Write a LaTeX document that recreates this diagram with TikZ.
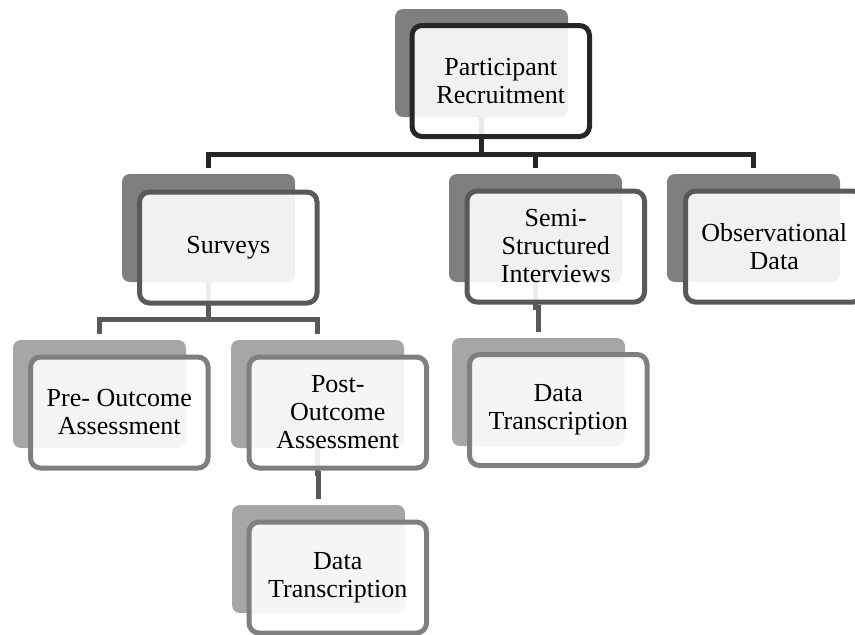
\documentclass[tikz,border=0pt]{standalone}
\usepackage{fontspec}
\setmainfont{Liberation Serif}
\definecolor{lzero}{HTML}{262626}
\definecolor{lone}{HTML}{595959}
\definecolor{ltwo}{HTML}{7F7F7F}
\definecolor{bkdark}{HTML}{7F7F7F}
\definecolor{bklight}{HTML}{A6A6A6}
\definecolor{tintdark}{HTML}{F1F1F1}
\definecolor{tintlight}{HTML}{F5F5F5}
\definecolor{tintzero}{HTML}{E8E8E8}
\definecolor{tintone}{HTML}{EDEDED}
\begin{document}
\begin{tikzpicture}[x=1pt,y=-1pt,
  backbox/.style={rectangle, rounded corners=8pt, minimum width=173pt, minimum height=108pt, inner sep=0pt, outer sep=0pt, anchor=north west},
  frontbox/.style={rectangle, fill=white, minimum width=177.5pt, minimum height=111pt, inner sep=0pt, outer sep=0pt, anchor=north west, rounded corners=10pt},
  outline/.style={line width=5pt, rounded corners=10pt},
  label/.style={align=center, font=\fontsize{26}{28}\selectfont},
  conn/.style={line width=5pt, shorten >=6pt},
  stub/.style={line width=5pt}
]
\useasboundingbox (0,0) rectangle (855,635);
% back boxes
\node[backbox, fill=bkdark] (pb) at (395,9) {};
\node[backbox, fill=bkdark] (sb) at (122,174) {};
\node[backbox, fill=bkdark] (mb) at (449,174) {};
\node[backbox, fill=bkdark] (ob) at (667,174) {};
\node[backbox, fill=bklight] (prb) at (13,340) {};
\node[backbox, fill=bklight] (pob) at (231,340) {};
\node[backbox, fill=bklight] (d2b) at (452,338) {};
\node[backbox, fill=bklight] (d1b) at (232,505) {};
% connectors
\draw[conn, lzero] (pb.south) -- ++(0,37) -| (sb.north);
\draw[conn, lzero] (pb.south) -- ++(0,37) -| (mb.north);
\draw[conn, lzero] (pb.south) -- ++(0,37) -| (ob.north);
\draw[conn, lone] (sb.south) -- ++(0,37) -| (prb.north);
\draw[conn, lone] (sb.south) -- ++(0,37) -| (pob.north);
\draw[conn, lone] (mb.south) -- ++(0,25) -| (d2b.north);
\draw[conn, lone] (pob.south) -- ++(0,25) -| (d1b.north);
% front boxes (white faces)
\node[frontbox] (p) at (412,25.5) {};
\node[frontbox] (s) at (139.5,192) {};
\node[frontbox] (m) at (467,191) {};
\node[frontbox] (o) at (685.5,191) {};
\node[frontbox] (pr) at (30.5,357) {};
\node[frontbox] (po) at (249,357) {};
\node[frontbox] (d2) at (469.5,354.5) {};
\node[frontbox] (d1) at (249,522) {};
% tinted overlaps seen through the faces
\begin{scope}
  \clip[rounded corners=10pt] (p.north west) rectangle (p.south east);
  \fill[tintdark, rounded corners=8pt] (pb.north west) rectangle (pb.south east);
  \draw[stub, tintzero] (pb.south) -- ++(0,37);
\end{scope}
\begin{scope}
  \clip[rounded corners=10pt] (s.north west) rectangle (s.south east);
  \fill[tintdark, rounded corners=8pt] (sb.north west) rectangle (sb.south east);
  \draw[stub, tintone] (sb.south) -- ++(0,37);
\end{scope}
\begin{scope}
  \clip[rounded corners=10pt] (m.north west) rectangle (m.south east);
  \fill[tintdark, rounded corners=8pt] (mb.north west) rectangle (mb.south east);
  \draw[stub, tintone] (mb.south) -- ++(0,25);
\end{scope}
\begin{scope}
  \clip[rounded corners=10pt] (o.north west) rectangle (o.south east);
  \fill[tintdark, rounded corners=8pt] (ob.north west) rectangle (ob.south east);
\end{scope}
\begin{scope}
  \clip[rounded corners=10pt] (pr.north west) rectangle (pr.south east);
  \fill[tintlight, rounded corners=8pt] (prb.north west) rectangle (prb.south east);
\end{scope}
\begin{scope}
  \clip[rounded corners=10pt] (po.north west) rectangle (po.south east);
  \fill[tintlight, rounded corners=8pt] (pob.north west) rectangle (pob.south east);
  \draw[stub, tintone] (pob.south) -- ++(0,25);
\end{scope}
\begin{scope}
  \clip[rounded corners=10pt] (d2.north west) rectangle (d2.south east);
  \fill[tintlight, rounded corners=8pt] (d2b.north west) rectangle (d2b.south east);
\end{scope}
\begin{scope}
  \clip[rounded corners=10pt] (d1.north west) rectangle (d1.south east);
  \fill[tintlight, rounded corners=8pt] (d1b.north west) rectangle (d1b.south east);
\end{scope}
% outlines
\draw[outline, lzero] (p.north west) rectangle (p.south east);
\draw[outline, lone] (s.north west) rectangle (s.south east);
\draw[outline, lone] (m.north west) rectangle (m.south east);
\draw[outline, lone] (o.north west) rectangle (o.south east);
\draw[outline, ltwo] (pr.north west) rectangle (pr.south east);
\draw[outline, ltwo] (po.north west) rectangle (po.south east);
\draw[outline, ltwo] (d2.north west) rectangle (d2.south east);
\draw[outline, ltwo] (d1.north west) rectangle (d1.south east);
% labels
\node[label] (pt) at (p.center) {Participant\\Recruitment};
\node[label] (st) at (s.center) {Surveys};
\node[label] (mt) at (m.center) {Semi-\\Structured\\Interviews};
\node[label] (ot) at (o.center) {Observational\\Data};
\node[label] (prt) at (pr.center) {Pre- Outcome\\Assessment};
\node[label] (pot) at (po.center) {Post-\\Outcome\\Assessment};
\node[label] (d2t) at (d2.center) {Data\\Transcription};
\node[label] (d1t) at (d1.center) {Data\\Transcription};
\end{tikzpicture}
\end{document}
